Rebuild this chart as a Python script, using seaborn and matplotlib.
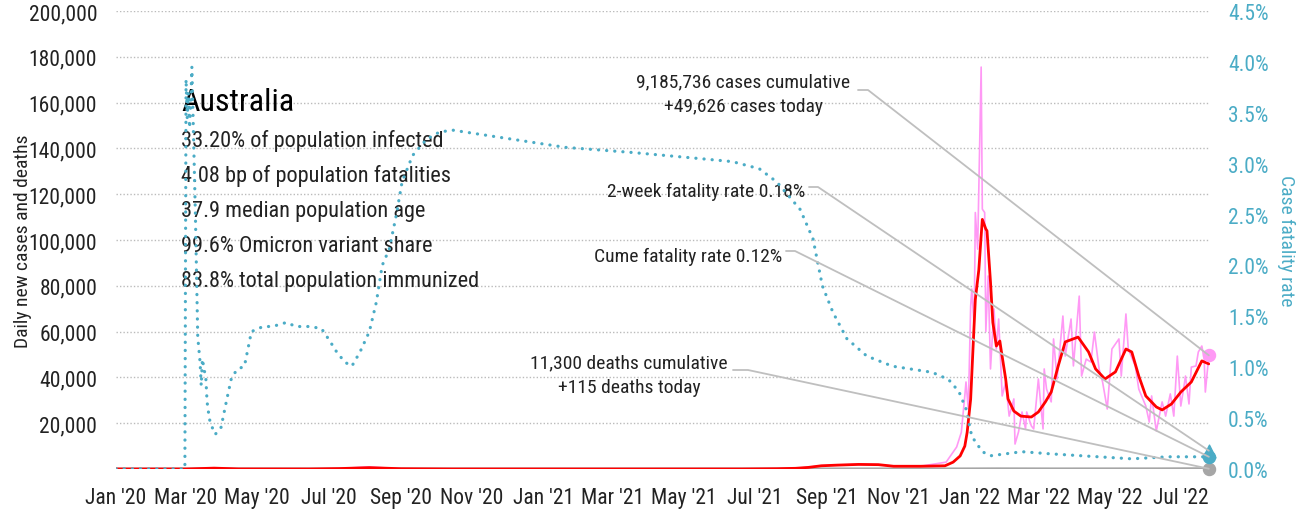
import matplotlib
matplotlib.use("Agg")
import pandas as pd
import seaborn as sns
import matplotlib.pyplot as plt
import matplotlib.dates as mdates
from matplotlib.lines import Line2D
from matplotlib.ticker import MultipleLocator, FuncFormatter
from matplotlib import font_manager

# ---- data ----
avg_dates = ["2020-01-01", "2020-03-01", "2020-03-25", "2020-04-15", "2020-06-15", "2020-07-10",
             "2020-08-05", "2020-09-01", "2020-10-15", "2020-12-31", "2021-03-01", "2021-06-20",
             "2021-07-20", "2021-08-05", "2021-08-16", "2021-08-27", "2021-09-10", "2021-09-28",
             "2021-10-15", "2021-10-28", "2021-11-20", "2021-12-11", "2021-12-18", "2021-12-24",
             "2021-12-28", "2021-12-30", "2022-01-02", "2022-01-04", "2022-01-06", "2022-01-09",
             "2022-01-11", "2022-01-12", "2022-01-15", "2022-01-16", "2022-01-19", "2022-01-21",
             "2022-01-24", "2022-01-27", "2022-01-28", "2022-02-01", "2022-02-03", "2022-02-08",
             "2022-02-14", "2022-02-23", "2022-03-01", "2022-03-07", "2022-03-12", "2022-03-18",
             "2022-03-24", "2022-04-04", "2022-04-13", "2022-04-19", "2022-04-27", "2022-05-06",
             "2022-05-15", "2022-05-20", "2022-05-26", "2022-06-01", "2022-06-10", "2022-06-15",
             "2022-06-23", "2022-07-01", "2022-07-10", "2022-07-19", "2022-07-25"]
avg_cases = [0, 5, 380, 40, 15, 180,
             600, 120, 15, 15, 10, 15,
             120, 300, 700, 1400, 1700, 2000,
             1900, 1200, 1200, 1400, 3000, 5700,
             10000, 16000, 30500, 52400, 74000, 87000,
             101800, 109000, 104800, 104000, 81600, 64000,
             53700, 55900, 52400, 39300, 30600, 25300,
             23100, 22700, 24900, 29300, 33600, 45000,
             55500, 57600, 51100, 43700, 39300, 42400,
             52400, 51100, 40600, 31900, 27100, 25800,
             28400, 33600, 38000, 47200, 45900]

daily_dates = ["2020-01-01", "2020-03-01", "2020-03-25", "2020-04-15", "2020-06-15", "2020-07-10",
               "2020-08-04", "2020-09-01", "2020-10-15", "2020-12-31", "2021-03-01", "2021-06-20",
               "2021-07-20", "2021-08-05", "2021-08-16", "2021-08-27", "2021-09-10", "2021-09-28",
               "2021-10-15", "2021-10-28", "2021-11-20", "2021-12-12", "2021-12-21", "2021-12-25",
               "2021-12-28", "2021-12-29", "2021-12-31", "2022-01-02", "2022-01-03", "2022-01-05",
               "2022-01-06", "2022-01-08", "2022-01-11", "2022-01-12", "2022-01-14", "2022-01-15",
               "2022-01-17", "2022-01-19", "2022-01-22", "2022-01-24", "2022-01-26", "2022-01-29",
               "2022-02-01", "2022-02-04", "2022-02-08", "2022-02-09", "2022-02-12", "2022-02-15",
               "2022-02-18", "2022-02-19", "2022-02-23", "2022-02-25", "2022-03-01", "2022-03-05",
               "2022-03-06", "2022-03-08", "2022-03-12", "2022-03-14", "2022-03-17", "2022-03-22",
               "2022-03-24", "2022-03-29", "2022-03-31", "2022-04-05", "2022-04-07", "2022-04-11",
               "2022-04-15", "2022-04-18", "2022-04-22", "2022-04-25", "2022-04-29", "2022-05-03",
               "2022-05-09", "2022-05-11", "2022-05-15", "2022-05-17", "2022-05-23", "2022-05-26",
               "2022-06-01", "2022-06-04", "2022-06-06", "2022-06-10", "2022-06-15", "2022-06-18",
               "2022-06-22", "2022-06-25", "2022-06-28", "2022-07-01", "2022-07-04", "2022-07-05",
               "2022-07-08", "2022-07-10", "2022-07-14", "2022-07-16", "2022-07-19", "2022-07-21",
               "2022-07-22", "2022-07-25"]
daily_cases = [0, 10, 400, 35, 15, 190,
               900, 110, 15, 20, 10, 15,
               130, 320, 750, 1450, 1750, 2050,
               1900, 1250, 1200, 3000, 9600, 16000,
               32000, 38000, 26200, 71000, 78600, 62000,
               112000, 96000, 175500, 113500, 112000, 60000,
               84300, 43700, 69900, 52400, 65500, 31900,
               38000, 23100, 30600, 10900, 16200, 24900,
               17500, 24900, 18800, 17500, 39300, 17500,
               43700, 34900, 29300, 56800, 39300, 66800,
               49300, 65500, 45000, 75500, 40600, 48000,
               46700, 59800, 43700, 38000, 26200, 52400,
               56800, 40600, 67700, 52400, 45000, 34900,
               27500, 20500, 31900, 16600, 29300, 23100,
               32800, 23100, 49300, 27500, 37100, 40600,
               28400, 44500, 45000, 51100, 53700, 48000,
               33600, 49626]

death_dates = ["2020-01-01", "2020-04-05", "2020-08-10", "2020-10-01", "2020-12-01", "2021-09-20",
               "2021-12-15", "2022-01-25", "2022-03-15", "2022-06-10", "2022-07-25"]
daily_deaths = [0, 5, 20, 8, 0, 12, 2, 60, 25, 45, 115]

cfr_dates = ["2020-01-01", "2020-02-29", "2020-03-01", "2020-03-02", "2020-03-03", "2020-03-04",
             "2020-03-05", "2020-03-06", "2020-03-09", "2020-03-11", "2020-03-13", "2020-03-14",
             "2020-03-15", "2020-03-18", "2020-03-19", "2020-03-21", "2020-03-24", "2020-03-26",
             "2020-03-31", "2020-04-05", "2020-04-09", "2020-04-14", "2020-04-20", "2020-04-26",
             "2020-05-06", "2020-05-14", "2020-05-26", "2020-06-03", "2020-06-15", "2020-06-25",
             "2020-07-02", "2020-07-08", "2020-07-15", "2020-07-21", "2020-07-28", "2020-08-05",
             "2020-08-11", "2020-08-16", "2020-08-22", "2020-08-28", "2020-09-02", "2020-09-11",
             "2020-09-23", "2020-10-04", "2020-10-15", "2020-11-24", "2021-01-20", "2021-03-18",
             "2021-05-15", "2021-06-12", "2021-07-05", "2021-07-20", "2021-08-09", "2021-08-20",
             "2021-08-28", "2021-09-06", "2021-09-18", "2021-10-05", "2021-10-27", "2021-11-30",
             "2021-12-14", "2021-12-23", "2021-12-29", "2022-01-03", "2022-01-12", "2022-01-19",
             "2022-02-15", "2022-03-10", "2022-04-07", "2022-05-20", "2022-06-20", "2022-07-25"]
cfr_pct = [0, 0, 3.83, 3.45, 3.70, 3.35,
           3.60, 3.95, 2.50, 1.30, 1.05, 0.82,
           1.08, 0.88, 0.66, 0.49, 0.39, 0.34,
           0.41, 0.69, 0.90, 0.98, 1.01, 1.35,
           1.40, 1.40, 1.44, 1.40, 1.40, 1.38,
           1.26, 1.15, 1.05, 1.01, 1.15, 1.35,
           1.64, 2.00, 2.16, 2.49, 2.82, 3.08,
           3.24, 3.31, 3.33, 3.26, 3.16, 3.11,
           3.05, 3.02, 2.95, 2.82, 2.55, 2.26,
           1.80, 1.54, 1.28, 1.11, 1.01, 0.95,
           0.88, 0.76, 0.59, 0.32, 0.17, 0.13,
           0.17, 0.15, 0.13, 0.10, 0.12, 0.12]

last_date = "2022-07-25"
cases_today = 49626
deaths_today = 115
two_week_cfr = 0.18
cume_cfr = 0.12

stats = ["33.20% of population infected",
         "4.08 bp of population fatalities",
         "37.9 median population age",
         "99.6% Omicron variant share",
         "83.8% total population immunized"]

# ---- style ----
TEAL = "#4BACC6"
PINK = "#FF99F5"
RED = "#FF0000"
GREY = "#A6A6A6"
LEAD = "#BFBFBF"
INK = "#222222"

sns.set_style("white")
# condensed face if one is installed, otherwise a regular sans
installed = {f.name for f in font_manager.fontManager.ttflist}
narrow = [n for n in ["Roboto Condensed", "Liberation Sans Narrow", "DejaVu Sans Condensed"]
          if n in installed]
plt.rcParams["font.family"] = narrow + ["DejaVu Sans"]

W, H = 1307, 510
fig = plt.figure(figsize=(W / 100, H / 100), dpi=100)
ax = fig.add_axes([116 / W, 40 / H, 1094 / W, 458 / H])
ax2 = ax.twinx()

to_dt = pd.to_datetime

sns.lineplot(x=to_dt(daily_dates), y=daily_cases, ax=ax, color=PINK, lw=1.2, zorder=2)
sns.lineplot(x=to_dt(death_dates), y=daily_deaths, ax=ax, color=GREY, lw=2.2, zorder=2)
sns.lineplot(x=to_dt(avg_dates), y=avg_cases, ax=ax, color=RED, lw=2.0, zorder=3)
sns.lineplot(x=to_dt(cfr_dates), y=cfr_pct, ax=ax2, color=TEAL, lw=2.3,
             linestyle=(0, (0.05, 2.5)), dash_capstyle="round", zorder=3)

end = to_dt([last_date])
ax.scatter(end, [cases_today], s=75, color=PINK, zorder=5, clip_on=False)
ax.scatter(end, [deaths_today], s=75, color=GREY, zorder=5, clip_on=False)
ax2.scatter(end, [cume_cfr], s=75, color=TEAL, zorder=5, clip_on=False)
ax2.scatter(end, [two_week_cfr], s=85, marker="^", color=TEAL, zorder=5, clip_on=False)

# axes
ax.set_xlim(to_dt("2020-01-01"), to_dt("2022-07-26"))
ax.set_ylim(0, 200000)
ax2.set_ylim(0, 4.5)
ax.yaxis.set_major_locator(MultipleLocator(20000))
ax.yaxis.set_major_formatter(FuncFormatter(lambda v, p: "" if v == 0 else f"{v:,.0f}"))
ax2.yaxis.set_major_locator(MultipleLocator(0.5))
ax2.yaxis.set_major_formatter(FuncFormatter(lambda v, p: f"{v:.1f}%"))
ax.xaxis.set_major_locator(mdates.MonthLocator(bymonth=[1, 3, 5, 7, 9, 11]))
ax.xaxis.set_major_formatter(mdates.DateFormatter("%b '%y"))

ax.grid(axis="y", ls=(0, (1, 1.5)), color="#BBBBBB", lw=1)
ax.grid(axis="x", visible=False)
ax2.grid(False)
ax.set_axisbelow(True)
for a in (ax, ax2):
    for s in a.spines.values():
        s.set_visible(False)

ax.tick_params(axis="y", length=0, pad=13.5, labelsize=15.5, labelcolor=INK)
ax.tick_params(axis="x", length=0, pad=13, labelsize=15.5, labelcolor=INK)
ax2.tick_params(axis="y", length=0, pad=13, labelsize=15.5, labelcolor=TEAL)

ax.set_xlabel("")
ax.set_ylabel("Daily new cases and deaths", fontsize=14, color=INK)
ax.yaxis.set_label_coords(-0.077, 0.5)
ax2.set_ylabel("Case fatality rate", fontsize=14, color=TEAL, rotation=270, va="bottom")
ax2.yaxis.set_label_coords(1.061, 0.5)


def frac(x, y):
    # reference pixel -> axes fraction
    return (x - 116) / 1094, (470 - y) / 458


# country block
ax.text(*frac(181, 111), "Australia", transform=ax.transAxes, fontsize=23, color="black",
        va="baseline", ha="left")
for i, line in enumerate(stats):
    ax.text(*frac(181, 147 + 35 * i), line, transform=ax.transAxes, fontsize=16,
            color=INK, va="baseline", ha="left")

# annotations
ax.text(*frac(743, 87), "9,185,736 cases cumulative", transform=ax.transAxes,
        fontsize=14, color=INK, ha="center", va="baseline")
ax.text(*frac(743, 112), "+49,626 cases today", transform=ax.transAxes,
        fontsize=14, color=INK, ha="center", va="baseline")
ax.text(*frac(805, 197), "2-week fatality rate 0.18%", transform=ax.transAxes,
        fontsize=14, color=INK, ha="right", va="baseline")
ax.text(*frac(782, 262), "Cume fatality rate 0.12%", transform=ax.transAxes,
        fontsize=14, color=INK, ha="right", va="baseline")
ax.text(*frac(629, 368), "11,300 deaths cumulative", transform=ax.transAxes,
        fontsize=14, color=INK, ha="center", va="baseline")
ax.text(*frac(629, 393), "+115 deaths today", transform=ax.transAxes,
        fontsize=14, color=INK, ha="center", va="baseline")

inv = fig.transFigure.inverted()


def leader(x0, y0, run, target_ax, value):
    p0 = inv.transform(ax.transAxes.transform(frac(x0, y0)))
    p1 = inv.transform(ax.transAxes.transform(frac(x0 + run, y0)))
    p2 = inv.transform(target_ax.transData.transform((mdates.date2num(end[0]), value)))
    fig.add_artist(Line2D([p0[0], p1[0], p2[0]], [p0[1], p1[1], p2[1]],
                          color=LEAD, lw=1.3, zorder=4))


leader(858, 91, 10, ax, cases_today)
leader(809, 188, 9, ax2, two_week_cfr)
leader(786, 252, 9, ax2, cume_cfr)
leader(733, 371, 15, ax, deaths_today)

fig.savefig("out.png", dpi=100, facecolor="white")
